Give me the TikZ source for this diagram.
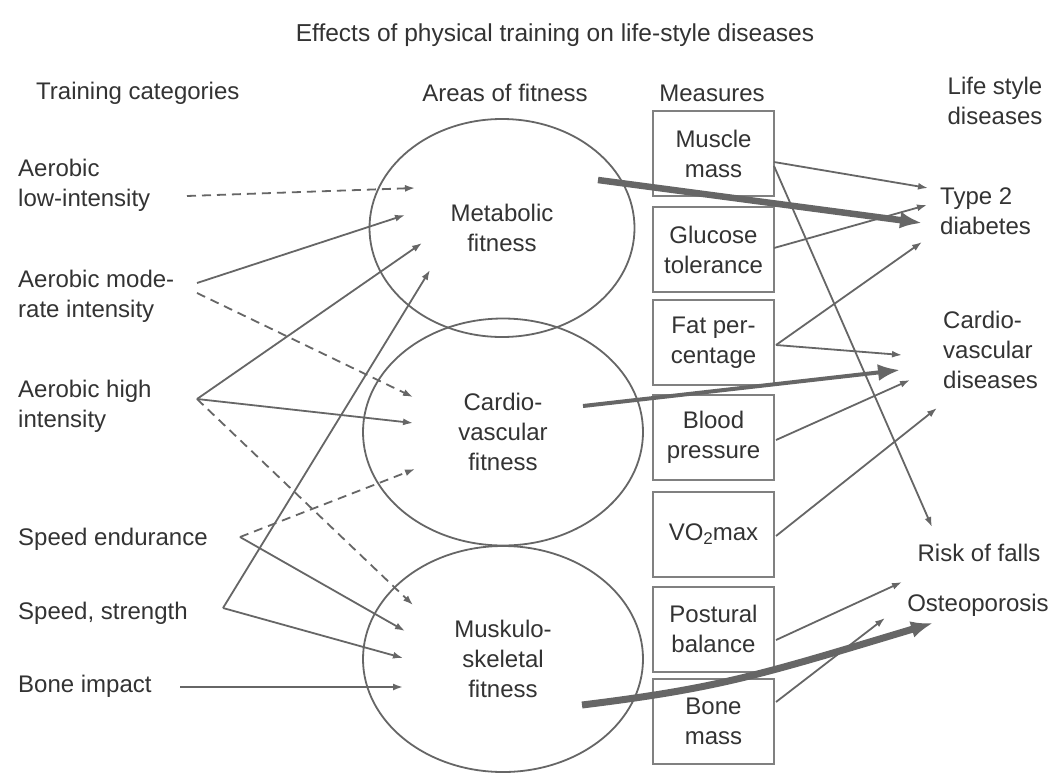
\documentclass[tikz,border=0pt]{standalone}
\usepackage{fontspec}
\setmainfont{Liberation Sans}
\usetikzlibrary{arrows.meta,shapes.geometric}
\definecolor{txt}{gray}{0.2}
\definecolor{ln}{gray}{0.4}
\definecolor{bx}{gray}{0.5}
\newcommand{\mysub}[1]{\raisebox{-0.3ex}{\fontsize{17}{17}\selectfont #1}}
\begin{document}
\begin{tikzpicture}[x=1pt,y=-1pt,
  tx/.style={font=\fontsize{24}{30}\selectfont, text=txt, inner sep=0pt},
  lbl/.style={tx, align=left, anchor=west},
  ctr/.style={tx, align=center},
  fitness/.style={ctr, ellipse, draw=ln, line width=1.8pt},
  meas/.style={ctr, draw=bx, line width=2pt, minimum width=121pt, minimum height=85pt},
  arr/.style={draw=ln, line width=1.8pt, -{Latex[length=10pt,width=7pt]}},
  darr/.style={arr, dash pattern=on 9pt off 6pt},
  big/.style={draw=ln, line width=#1, -{Latex[length=22pt,width=17pt]}}
]
\useasboundingbox[fill=white] (0,0) rectangle (1054,774);

% headers
\node[ctr, font=\fontsize{24.5}{30}\selectfont] (title) at (555,35) {Effects of physical training on life-style diseases};
\node[lbl] (htc) at (36,93) {Training categories};
\node[ctr] (haf) at (505,93) {Areas of fitness};
\node[ctr] (hme) at (712,93) {Measures};
\node[ctr] (hls) at (995,101) {Life style\\diseases};

% training categories
\node[lbl] (low) at (18,185) {Aerobic\\low-intensity};
\node[lbl] (mod) at (18,296) {Aerobic mode-\\rate intensity};
\node[lbl] (high) at (18,406) {Aerobic high\\intensity};
\node[lbl] (send) at (18,539) {Speed endurance};
\node[lbl] (sstr) at (18,613) {Speed, strength};
\node[lbl] (bimp) at (18,686) {Bone impact};

% areas of fitness
\node[fitness, minimum width=265pt, minimum height=218pt] (met) at (502,228) {Metabolic\\fitness};
\node[fitness, minimum width=280pt, minimum height=227pt] (car) at (503,432) {Cardio-\\vascular\\fitness};
\node[fitness, minimum width=280pt, minimum height=226pt] (mus) at (503,659) {Muskulo-\\skeletal\\fitness};

% measures
\node[meas] (mm) at (713.5,153.5) {Muscle\\mass};
\node[meas] (gt) at (713.5,249.5) {Glucose\\tolerance};
\node[meas] (fp) at (713.5,342.5) {Fat per-\\centage};
\node[meas] (bp) at (713.5,437.5) {Blood\\pressure};
\node[meas] (vo) at (713.5,534.5) {VO\mysub{2}max};
\node[meas] (pb) at (713.5,629) {Postural\\balance};
\node[meas] (bm) at (713.5,721) {Bone\\mass};

% diseases
\node[lbl] (t2d) at (940,211) {Type 2\\diabetes};
\node[lbl] (cvd) at (943,350) {Cardio-\\vascular\\diseases};
\node[ctr] (rof) at (979,553) {Risk of falls};
\node[ctr] (ost) at (978,605) {Osteoporosis};

% connector points
\coordinate (lowS) at (187,196);
\coordinate (modS) at (197,283);
\coordinate (modS2) at (197,293);
\coordinate (highS) at (197,399);
\coordinate (sstrS) at (223,608);
\coordinate (sendS) at (240,537);
\coordinate (bimpS) at (180,687);
\coordinate (metI1) at (415,188);
\coordinate (metI2) at (405,215);
\coordinate (metI3) at (422,243);
\coordinate (metI4) at (430,270);
\coordinate (carI1) at (413,397);
\coordinate (carI2) at (413,423);
\coordinate (carI3) at (415,469);
\coordinate (musI1) at (413,605);
\coordinate (musI2) at (405,631);
\coordinate (musI3) at (403,658);
\coordinate (musI4) at (403,687);
\coordinate (metO) at (598,180);
\coordinate (carO) at (583,406);
\coordinate (musO) at (582,705);
\coordinate (mmO1) at (774,162);
\coordinate (mmO2) at (774,166);
\coordinate (gtO) at (774,248);
\coordinate (fpO) at (776,345);
\coordinate (bpO) at (776,440);
\coordinate (voO) at (776,536);
\coordinate (pbO) at (776,640);
\coordinate (bmO) at (776,702);
\coordinate (t2dI1) at (928,188);
\coordinate (t2dI2) at (927,205);
\coordinate (t2dI3) at (922,223);
\coordinate (t2dI4) at (922,242);
\coordinate (cvdI1) at (902,355);
\coordinate (cvdI2) at (900,370);
\coordinate (cvdI3) at (910,380);
\coordinate (cvdI4) at (937,408);
\coordinate (rofI1) at (932,527);
\coordinate (rofI2) at (902,582);
\coordinate (ostI1) at (885,618);
\coordinate (ostI2) at (933,623);

% training -> fitness
\draw[darr] (lowS) -- (metI1);
\draw[arr] (modS) -- (metI2);
\draw[darr] (modS2) -- (carI1);
\draw[arr] (highS) -- (metI3);
\draw[arr] (highS) -- (carI2);
\draw[darr] (highS) -- (musI1);
\draw[arr] (sstrS) -- (metI4);
\draw[arr] (sstrS) -- (musI3);
\draw[darr] (sendS) -- (carI3);
\draw[arr] (sendS) -- (musI2);
\draw[arr] (bimpS) -- (musI4);

% measures -> diseases
\draw[arr] (mmO1) -- (t2dI1);
\draw[arr] (mmO2) -- (rofI1);
\draw[arr] (gtO) -- (t2dI2);
\draw[arr] (fpO) -- (t2dI4);
\draw[arr] (fpO) -- (cvdI1);
\draw[arr] (bpO) -- (cvdI3);
\draw[arr] (voO) -- (cvdI4);
\draw[arr] (pbO) -- (rofI2);
\draw[arr] (bmO) -- (ostI1);

% fitness -> diseases (thick)
\draw[big=6.5pt] (metO) -- (t2dI3);
\draw[big=4pt] (carO) -- (cvdI2);
\draw[big=7pt] (musO) .. controls (720,688) and (760,675) .. (ostI2);
\end{tikzpicture}
\end{document}
